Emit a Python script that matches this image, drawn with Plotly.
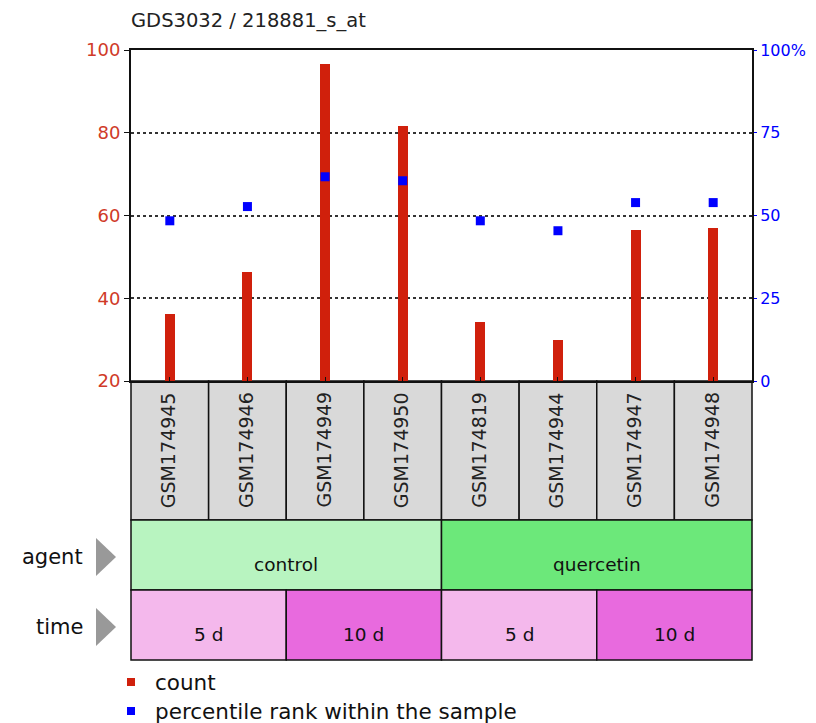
import plotly.graph_objects as go

samples = ["GSM174945", "GSM174946", "GSM174949", "GSM174950",
           "GSM174819", "GSM174944", "GSM174947", "GSM174948"]
counts = [36.2, 46.3, 96.6, 81.6, 34.3, 29.9, 56.5, 56.9]
percentiles = [48.4, 52.7, 61.7, 60.5, 48.4, 45.4, 53.9, 53.9]
agent_groups = [("control", 4, "#b8f4c0"), ("quercetin", 4, "#6ce87a")]
time_groups = [("5 d", 2, "#f4b8ec"), ("10 d", 2, "#e86ade"),
               ("5 d", 2, "#f4b8ec"), ("10 d", 2, "#e86ade")]
title = "GDS3032 / 218881_s_at"
left_ticks = [20, 40, 60, 80, 100]
right_ticks = [0, 25, 50, 75, 100]
right_ticktext = ["0", "25", "50", "75", "100%"]

OFF = 8  # page body margin
W, H = 816 - 2 * OFF, 723 - OFF
L, R, T, B = 131, 752, 50, 381
FONT = "DejaVu Sans"


def py(p):
    return (B - p) / (B - T)


def px(p):
    return (p - L) / (R - L)


fig = go.Figure()
fig.add_trace(go.Bar(x=samples, y=counts, width=0.13, marker_color="#d0200c",
                     marker_line_width=0, name="count", showlegend=False))
fig.add_trace(go.Scatter(x=samples, y=percentiles, yaxis="y2", mode="markers",
                         marker=dict(symbol="square", size=9, color="#0000ff"),
                         name="percentile", showlegend=False))

shapes = []
annotations = []
n = len(samples)


def ann(x, y, text, size, color="#111", xanchor="center", **kw):
    annotations.append(dict(x=x, y=y, xref="paper", yref="paper", text=text,
                            showarrow=False, xanchor=xanchor, yanchor="middle",
                            borderpad=0,
                            font=dict(family=FONT, size=size, color=color), **kw))


for i, s in enumerate(samples):
    shapes.append(dict(type="rect", xref="paper", yref="paper",
                       x0=i / n, x1=(i + 1) / n, y0=py(520), y1=py(381),
                       fillcolor="#d9d9d9", line=dict(color="#111", width=1.5), layer="below"))
    ann((i + 0.5) / n - 1.5 / (R - L), py(450), s, 19, "#222", textangle=-90)
start = 0
for name, k, col in agent_groups:
    shapes.append(dict(type="rect", xref="paper", yref="paper",
                       x0=start / n, x1=(start + k) / n, y0=py(590), y1=py(520),
                       fillcolor=col, line=dict(color="#111", width=1.5)))
    ann((start + k / 2) / n, py(564), name, 18.5)
    start += k
start = 0
for name, k, col in time_groups:
    shapes.append(dict(type="rect", xref="paper", yref="paper",
                       x0=start / n, x1=(start + k) / n, y0=py(660), y1=py(590),
                       fillcolor=col, line=dict(color="#111", width=1.5)))
    ann((start + k / 2) / n, py(634), name, 18.5)
    start += k
for label, yc in [("agent", 557), ("time", 627)]:
    ann(px(84), py(yc), label, 21, xanchor="right")
    shapes.append(dict(type="path", xref="paper", yref="paper",
                       path=f"M {px(96)} {py(yc-19)} L {px(116)} {py(yc)} L {px(96)} {py(yc+19)} Z",
                       fillcolor="#999999", line=dict(width=0)))
for label, col, yc in [("count", "#d0200c", 682), ("percentile rank within the sample", "#0000ff", 711)]:
    shapes.append(dict(type="rect", xref="paper", yref="paper",
                       x0=px(127), x1=px(135), y0=py(yc + 4), y1=py(yc - 4),
                       fillcolor=col, line=dict(width=0)))
    ann(px(154), py(yc), label, 21.5, xanchor="left")
ann(px(130), py(21), title, 19.5, "#222", xanchor="left")

fig.update_layout(
    width=W, height=H,
    margin=dict(l=L - OFF, r=816 - OFF - R, t=T - OFF, b=723 - B, pad=0, autoexpand=False),
    paper_bgcolor="white", plot_bgcolor="white",
    bargap=0,
    shapes=shapes, annotations=annotations,
    xaxis=dict(range=[-0.5, 7.5], showticklabels=False, ticks="inside", ticklen=4,
               tickcolor="#111", showgrid=False, showline=True, linecolor="#111",
               linewidth=2, mirror=True, zeroline=False, automargin=False),
    yaxis=dict(range=[20, 100], tickvals=left_ticks, ticks="outside", ticklen=5,
               tickcolor="#111", tickfont=dict(family=FONT, size=18, color="#d03a28"),
               showgrid=True, gridcolor="#333", griddash="dot", gridwidth=1.5,
               showline=True, linecolor="#111", linewidth=2, zeroline=False,
               automargin=False),
    yaxis2=dict(range=[0, 100], tickvals=right_ticks, ticktext=right_ticktext,
                overlaying="y", side="right", ticks="outside", ticklen=3,
                tickcolor="#0000ff", tickfont=dict(family=FONT, size=16, color="#0000ff"),
                showgrid=False, showline=True, linecolor="#111", linewidth=2,
                zeroline=False, automargin=False),
    showlegend=False,
)

fig.write_html("out.html")
